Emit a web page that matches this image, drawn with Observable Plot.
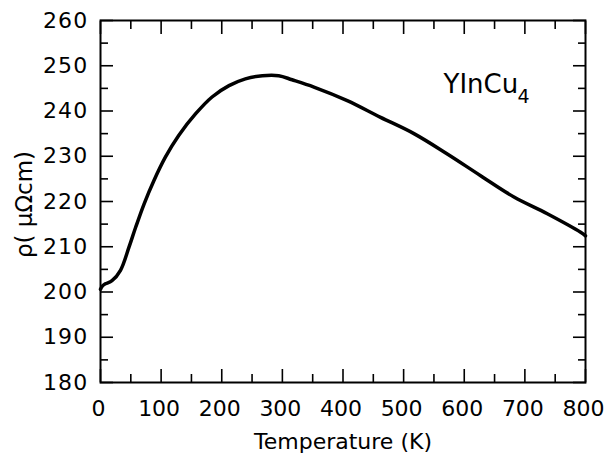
<!DOCTYPE html>
<html>
<head>
<meta charset="utf-8">
<script src="https://cdn.jsdelivr.net/npm/d3@7"></script>
<script src="https://cdn.jsdelivr.net/npm/@observablehq/plot@0.6"></script>
<style>
  html, body { margin: 0; padding: 0; background: #fff; }
  g[aria-label="y-axis tick label"] text { letter-spacing: 1.2px; }
  g[aria-label="compound"] text { letter-spacing: 1.8px; }
</style>
</head>
<body>
<div id="chart"></div>
<script>
// Temperature (K) and resistivity (µΩcm)
const temperature = [0, 3, 8, 19, 33, 47, 58, 72, 88, 107, 129, 157, 184, 212, 239, 267, 294, 316, 352, 407, 462, 517, 572, 627, 682, 737, 792, 800];
const resistivity = [200.6, 201.3, 201.8, 202.5, 204.8, 209.9, 214.3, 219.5, 224.6, 229.8, 234.6, 239.4, 243.1, 245.6, 247.1, 247.8, 247.8, 246.9, 245.3, 242.3, 238.6, 235.0, 230.5, 225.7, 221.0, 217.3, 213.2, 212.4];

const xTicks = [0, 100, 200, 300, 400, 500, 600, 700, 800];
const xMinorTicks = [50, 150, 250, 350, 450, 550, 650, 750];
const yTicks = [180, 190, 200, 210, 220, 230, 240, 250, 260];
const yMinorTicks = [185, 195, 205, 215, 225, 235, 245, 255];

const xLabel = "Temperature (K)";
const yLabel = "ρ( μΩcm)";
const compound = "YInCu";
const compoundSub = "4";

const data = temperature.map((t, i) => ({t, r: resistivity[i]}));

const majorLen = 13, minorLen = 8;
const tickOpts = {fill: "none", stroke: "#000", strokeWidth: 1.6, label: null};

const chart = Plot.plot({
  width: 605,
  height: 453,
  marginLeft: 100,
  marginRight: 20,
  marginTop: 20,
  marginBottom: 71,
  style: {fontFamily: "DejaVu Sans", background: "#fff", color: "#000"},
  x: {domain: [0, 800]},
  y: {domain: [180, 260]},
  marks: [
    Plot.line(data, {x: "t", y: "r", stroke: "#000", strokeWidth: 3.5, curve: "catmull-rom"}),
    Plot.frame({stroke: "#000", strokeWidth: 2}),
    // tick labels
    Plot.axisX(xTicks, {anchor: "bottom", tickSize: 0, tickPadding: 18, dx: -2, fontSize: 22, label: null, fill: "#000"}),
    Plot.axisY(yTicks, {anchor: "left", tickSize: 0, tickPadding: 12, fontSize: 22, label: null, fill: "#000"}),
    // inward major ticks on all four sides
    Plot.axisX(xTicks, {anchor: "bottom", tickSize: -majorLen, ...tickOpts}),
    Plot.axisX(xTicks, {anchor: "top", tickSize: -majorLen, ...tickOpts}),
    Plot.axisY(yTicks, {anchor: "left", tickSize: -majorLen, ...tickOpts}),
    Plot.axisY(yTicks, {anchor: "right", tickSize: -majorLen, ...tickOpts}),
    // inward minor ticks
    Plot.axisX(xMinorTicks, {anchor: "bottom", tickSize: -minorLen, ...tickOpts}),
    Plot.axisX(xMinorTicks, {anchor: "top", tickSize: -minorLen, ...tickOpts}),
    Plot.axisY(yMinorTicks, {anchor: "left", tickSize: -minorLen, ...tickOpts}),
    Plot.axisY(yMinorTicks, {anchor: "right", tickSize: -minorLen, ...tickOpts}),
    // axis titles
    Plot.text([xLabel], {frameAnchor: "bottom", lineAnchor: "bottom", dy: 66, fontSize: 22, fill: "#000"}),
    Plot.text([yLabel], {frameAnchor: "left", textAnchor: "middle", rotate: -90, dx: -76, dy: 3, fontSize: 23, fill: "#000"}),
    // compound annotation
    Plot.text([compound], {ariaLabel: "compound", frameAnchor: "top-right", textAnchor: "start", lineAnchor: "bottom", dx: -142, dy: 72, fontSize: 26, fill: "#000"}),
    Plot.text([compoundSub], {frameAnchor: "top-right", textAnchor: "start", lineAnchor: "bottom", dx: -68, dy: 82, fontSize: 19, fill: "#000"})
  ]
});
document.getElementById("chart").append(chart);
</script>
</body>
</html>
